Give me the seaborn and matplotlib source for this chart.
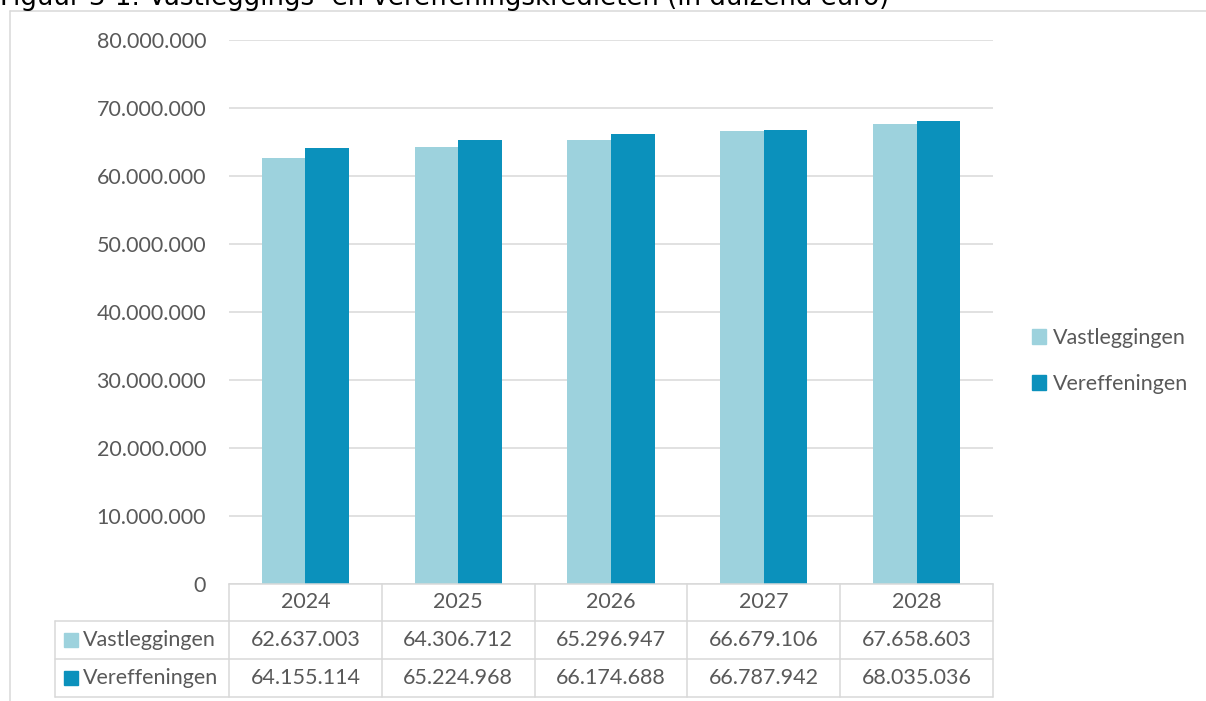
import numpy as np
import pandas as pd
import matplotlib.pyplot as plt
import seaborn as sns
from matplotlib.lines import Line2D
from matplotlib.patches import Patch
from matplotlib.ticker import FuncFormatter

years = ['2024', '2025', '2026', '2027', '2028']
vastleggingen = [62637003, 64306712, 65296947, 66679106, 67658603]
vereffeningen = [64155114, 65224968, 66174688, 66787942, 68035036]
series = ['Vastleggingen', 'Vereffeningen']
colors = ['#9DD2DD', '#0B91BC']
title = 'Figuur 3-1: Vastleggings- en vereffeningskredieten (in duizend euro)'

df = pd.DataFrame({
    'jaar': years * 2,
    'serie': [series[0]] * 5 + [series[1]] * 5,
    'waarde': vastleggingen + vereffeningen,
})

def dots(v, pos=None):
    return f'{int(v):,}'.replace(',', '.')

sns.set_theme(style='white')
plt.rcParams['font.family'] = ['Lato', 'DejaVu Sans']
txt = '#595959'
grid = '#D9D9D9'
fs = 15.5

fig = plt.figure(figsize=(12.06, 7.01), dpi=100)
W, H = 1206, 701
ax = fig.add_axes([229 / W, (H - 584) / H, 764 / W, 544 / H])

sns.barplot(data=df, x='jaar', y='waarde', hue='serie', palette=colors,
            width=0.57, linewidth=0, saturation=1, ax=ax, legend=False)

ax.set_xlim(-0.5, 4.5)
ax.set_ylim(0, 80000000)
ax.set_yticks(np.arange(0, 80000001, 10000000))
ax.yaxis.set_major_formatter(FuncFormatter(dots))
ax.tick_params(axis='y', labelsize=fs, labelcolor=txt, length=0, pad=16.5)
ax.set_xticks([])
ax.set_xlabel('')
ax.set_ylabel('')
ax.grid(axis='y', color=grid, linewidth=1.1)
ax.set_axisbelow(True)
for s in ['top', 'right', 'left']:
    ax.spines[s].set_visible(False)
ax.spines['bottom'].set_color(grid)
ax.spines['bottom'].set_linewidth(1.1)

# data table under the axis
tr = ax.get_xaxis_transform()
ah = 544.0
y_rows = [0, -37 / ah, -75 / ah, -113 / ah]
left_x = -0.5 - 174 / 152.8
lk = dict(color=grid, linewidth=1.1, clip_on=False, transform=tr)
for yr in y_rows[1:]:
    ax.add_line(Line2D([left_x, 4.5], [yr] * 2, **lk))
for i in range(6):
    ax.add_line(Line2D([i - 0.5] * 2, [y_rows[0], y_rows[3]], **lk))
ax.add_line(Line2D([left_x] * 2, [y_rows[1], y_rows[3]], **lk))

for i, y in enumerate(years):
    ax.text(i, (y_rows[0] + y_rows[1]) / 2, y, transform=tr, ha='center',
            va='center', fontsize=fs, color=txt)
for r, vals in enumerate([vastleggingen, vereffeningen]):
    yc = (y_rows[r + 1] + y_rows[r + 2]) / 2
    for i, v in enumerate(vals):
        ax.text(i, yc, dots(v), transform=tr, ha='center', va='center',
                fontsize=fs, color=txt)
    ax.add_patch(plt.Rectangle((left_x + 9 / 152.8, yc - 7 / ah), 14 / 152.8, 14 / ah,
                               color=colors[r], transform=tr, clip_on=False))
    ax.text(left_x + 28 / 152.8, yc, series[r], transform=tr, ha='left',
            va='center', fontsize=fs, color=txt)

handles = [Patch(color=c, label=s) for c, s in zip(colors, series)]
fig.legend(handles=handles, loc='center left', bbox_to_anchor=(1013 / W, 1 - 361 / H),
           frameon=False, fontsize=fs, labelcolor=txt, handlelength=0.65,
           handleheight=0.65, handletextpad=0.3, labelspacing=1.2)

# outer frame and clipped title
fig.add_artist(Line2D([10 / W, 1], [1 - 11 / H] * 2, color=grid, linewidth=1.1))
fig.add_artist(Line2D([10 / W] * 2, [0, 1 - 11 / H], color=grid, linewidth=1.1))
fig.text(0, 1 - 5 / H, title, family='DejaVu Sans', fontsize=18.7, color='#000000',
         ha='left', va='baseline')

fig.savefig('out.png', dpi=100)
